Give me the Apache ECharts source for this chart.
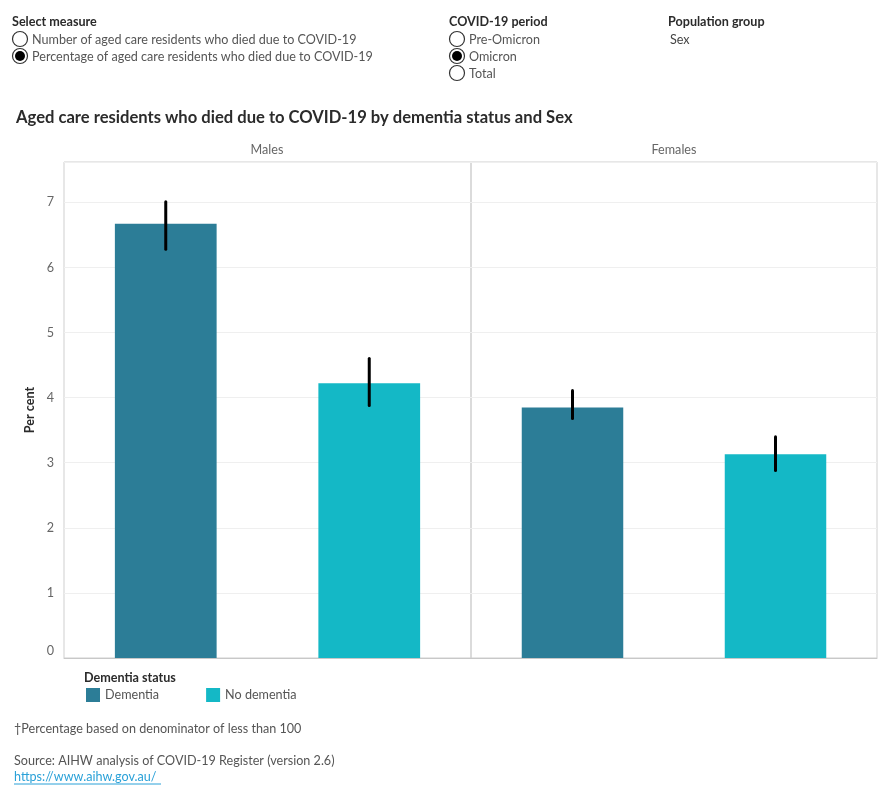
<!DOCTYPE html>
<html>
<head>
<meta charset="utf-8">
<script src="https://cdn.jsdelivr.net/npm/echarts@6/dist/echarts.min.js"></script>
<style>
  html, body { margin: 0; padding: 0; background: #fff; }
  #main { width: 890px; height: 800px; }
</style>
</head>
<body>
<div id="main"></div>
<script>
var myChart = echarts.init(document.getElementById('main'));

// data (per cent, Omicron period)
var categories = ['Dementia', 'No dementia'];
var panels = ['Males', 'Females'];
var malesPct = [6.67, 4.22];
var femalesPct = [3.85, 3.13];
var malesLow = [6.28, 3.88];
var malesHigh = [7.01, 4.60];
var femalesLow = [3.68, 2.88];
var femalesHigh = [4.11, 3.40];
var yTicks = [0, 1, 2, 3, 4, 5, 6, 7];

var FONT = 'Lato';
var FS = 12.6;
var DARK = '#2b2b2b';
var GREY = '#666666';
var colors = { 'Dementia': '#2c7d97', 'No dementia': '#14b8c6' };

function onlyAt(i, v) {
    return categories.map(function (c, j) { return j === i ? v : '-'; });
}

function errorBars(lo, hi) {
    return lo.map(function (l, i) { return [i, l, hi[i]]; });
}

function renderError(params, api) {
    var top = api.coord([api.value(0), api.value(2)]);
    var bot = api.coord([api.value(0), api.value(1)]);
    return {
        type: 'line',
        shape: { x1: top[0], y1: top[1], x2: bot[0], y2: bot[1] },
        style: { stroke: '#000', lineWidth: 3, lineCap: 'round' }
    };
}

function radio(x, y, checked) {
    var items = [{
        type: 'circle', shape: { cx: x, cy: y, r: 7.5 },
        style: { fill: '#fff', stroke: '#333', lineWidth: 1.2 }
    }];
    if (checked) {
        items.push({ type: 'circle', shape: { cx: x, cy: y, r: 5 }, style: { fill: '#000' } });
    }
    return items;
}

function txt(x, y, s, opt) {
    opt = opt || {};
    return {
        type: 'text', x: x, y: y + 1,
        style: {
            text: s, fill: opt.fill || '#555', fontFamily: FONT,
            fontSize: opt.size || FS, fontWeight: opt.weight || 'normal',
            textAlign: opt.align || 'left', textVerticalAlign: 'middle'
        }
    };
}

var graphics = [].concat(
    [txt(12, 21, 'Select measure', { fill: DARK, weight: 'bold' })],
    radio(20, 39, false), [txt(32, 39, 'Number of aged care residents who died due to COVID-19')],
    radio(20, 56, true), [txt(32, 56, 'Percentage of aged care residents who died due to COVID-19')],
    [txt(449, 21, 'COVID-19 period', { fill: DARK, weight: 'bold' })],
    radio(457, 39, false), [txt(469, 39, 'Pre-Omicron')],
    radio(457, 56, true), [txt(469, 56, 'Omicron')],
    radio(457, 73, false), [txt(469, 73, 'Total')],
    [txt(668, 21, 'Population group', { fill: DARK, weight: 'bold' })],
    [txt(670, 39, 'Sex', { fill: '#444' })],
    [txt(16, 117, 'Aged care residents who died due to COVID-19 by dementia status and Sex', { fill: DARK, weight: 'bold', size: 16.6 })],
    [txt(267, 149, panels[0], { fill: GREY, align: 'center' })],
    [txt(674, 149, panels[1], { fill: GREY, align: 'center' })],
    [txt(84, 677, 'Dementia status', { fill: DARK, weight: 'bold' })],
    [txt(14, 728, '\u2020Percentage based on denominator of less than 100')],
    [txt(14, 760, 'Source: AIHW analysis of COVID-19 Register (version 2.6)')],
    [txt(14, 776, 'https://www.aihw.gov.au/', { fill: '#2aa1d8' })],
    [{ type: 'line', shape: { x1: 14, y1: 784, x2: 161, y2: 784 }, style: { stroke: '#2aa1d8', lineWidth: 1 } }]
);

var yAxisBase = {
    type: 'value', min: 0, max: 7.62, interval: 1,
    axisLine: { show: false }, axisTick: { show: false },
    splitLine: { lineStyle: { color: '#efefef', width: 1 } },
    axisLabel: {
        showMaxLabel: false, color: GREY, fontFamily: FONT, fontSize: FS, margin: 10,
        formatter: function (v) { return v === 0 ? '{z|0}' : String(v); },
        rich: { z: { color: GREY, fontFamily: FONT, fontSize: FS, padding: [0, 0, 14, 0] } }
    }
};

option = {
    backgroundColor: '#fff',
    animation: false,
    graphic: graphics,
    legend: {
        data: categories,
        left: 81, top: 683,
        icon: 'rect', itemWidth: 14, itemHeight: 14, itemGap: 47,
        textStyle: { color: '#555', fontFamily: FONT, fontSize: FS },
        selectedMode: false
    },
    grid: [
        { left: 64, top: 162, width: 407, height: 496, show: true, borderColor: '#cfcfcf', borderWidth: 1 },
        { left: 471, top: 162, width: 406, height: 496, show: true, borderColor: '#cfcfcf', borderWidth: 1 }
    ],
    xAxis: [
        { type: 'category', gridIndex: 0, data: categories, axisLabel: { show: false }, axisTick: { show: false }, axisLine: { lineStyle: { color: '#c8c8c8' } } },
        { type: 'category', gridIndex: 1, data: categories, axisLabel: { show: false }, axisTick: { show: false }, axisLine: { lineStyle: { color: '#c8c8c8' } } }
    ],
    yAxis: [
        echarts.util.merge({
            gridIndex: 0, name: 'Per cent', nameLocation: 'middle', nameGap: 28,
            nameTextStyle: { color: DARK, fontFamily: FONT, fontSize: FS, fontWeight: 'bold' }
        }, yAxisBase, true),
        echarts.util.merge({ gridIndex: 1, axisLabel: { show: false } }, yAxisBase)
    ],
    series: [
        { name: 'Dementia', type: 'bar', xAxisIndex: 0, yAxisIndex: 0, data: onlyAt(0, malesPct[0]), barWidth: '50%', barGap: '-100%', itemStyle: { color: colors['Dementia'] } },
        { name: 'No dementia', type: 'bar', xAxisIndex: 0, yAxisIndex: 0, data: onlyAt(1, malesPct[1]), barWidth: '50%', barGap: '-100%', itemStyle: { color: colors['No dementia'] } },
        { name: 'Dementia', type: 'bar', xAxisIndex: 1, yAxisIndex: 1, data: onlyAt(0, femalesPct[0]), barWidth: '50%', barGap: '-100%', itemStyle: { color: colors['Dementia'] } },
        { name: 'No dementia', type: 'bar', xAxisIndex: 1, yAxisIndex: 1, data: onlyAt(1, femalesPct[1]), barWidth: '50%', barGap: '-100%', itemStyle: { color: colors['No dementia'] } },
        { type: 'custom', xAxisIndex: 0, yAxisIndex: 0, data: errorBars(malesLow, malesHigh), renderItem: renderError, z: 5 },
        { type: 'custom', xAxisIndex: 1, yAxisIndex: 1, data: errorBars(femalesLow, femalesHigh), renderItem: renderError, z: 5 }
    ]
};

myChart.setOption(option);
</script>
</body>
</html>
